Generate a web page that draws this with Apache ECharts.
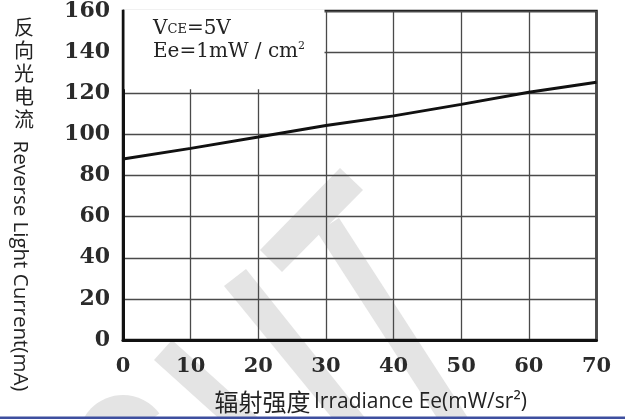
<!DOCTYPE html>
<html>
<head>
<meta charset="utf-8">
<script src="https://cdn.jsdelivr.net/npm/echarts@6/dist/echarts.min.js"></script>
<style>
html,body{margin:0;padding:0;background:#fff;}
#chart{width:625px;height:419px;}
</style>
</head>
<body>
<div id="chart"></div>
<script>
// ---- data ----
var irradiance = [0, 10, 20, 30, 40, 50, 60, 70];
var reverseCurrent = [88, 93.2, 98.7, 104.3, 109, 114.6, 120.5, 125.4];
var xTickLabels = ['0', '10', '20', '30', '40', '50', '60', '70'];
var yTickLabels = ['0', '20', '40', '60', '80', '100', '120', '140', '160'];
var yNameCJK = ['反', '向', '光', '电', '流'];
var yNameLatin = 'Reverse Light Current(mA)';
var xNameCJK = '辐射强度';
var xNameLatin = 'Irradiance Ee(mW/sr²)';

var seriesData = irradiance.map(function (x, i) { return [x, reverseCurrent[i]]; });

var chart = echarts.init(document.getElementById('chart'), null, { renderer: 'canvas' });
var serif = 'DejaVu Serif';
var wm = '#e4e4e4';

var option = {
  backgroundColor: '#ffffff',
  animation: false,
  grid: {
    left: 123, right: 28.5, top: 8, bottom: 75,
    show: true, borderColor: '#1a1a1a', borderWidth: 2.5, backgroundColor: 'transparent'
  },
  xAxis: {
    type: 'value', min: 0, max: 70, interval: 10,
    axisLine: { show: true, onZero: false, lineStyle: { color: '#111', width: 3 } },
    axisTick: { show: false },
    splitLine: { show: true, lineStyle: { color: '#4a4a4a', width: 1.3 } },
    axisLabel: {
      margin: 16, fontFamily: serif, fontWeight: 'bold', fontSize: 21, color: '#2a2a2a',
      formatter: function (v) { return xTickLabels[Math.round(v / 10)]; }
    },
    name: '{c|' + xNameCJK + '} {l|' + xNameLatin + '}',
    nameLocation: 'middle', nameGap: 50,
    nameTextStyle: {
      padding: [0, 0, 0, 22],
      rich: {
        c: { fontFamily: 'Noto Sans CJK SC', fontSize: 24, color: '#222' },
        l: { fontFamily: 'Open Sans', fontSize: 21, color: '#222' }
      }
    }
  },
  yAxis: {
    type: 'value', min: 0, max: 160, interval: 20,
    axisLine: { show: true, onZero: false, lineStyle: { color: '#111', width: 3 } },
    axisTick: { show: false },
    splitLine: { show: true, lineStyle: { color: '#4a4a4a', width: 1.3 } },
    axisLabel: {
      margin: 13, fontFamily: serif, fontWeight: 'bold', fontSize: 22, color: '#2a2a2a',
      formatter: function (v) { return yTickLabels[Math.round(v / 20)]; }
    }
  },
  series: [{
    type: 'line',
    data: seriesData,
    showSymbol: false,
    symbol: 'none',
    lineStyle: { color: '#111', width: 3 },
    z: 3
  }],
  graphic: [
    // faint watermark strokes
    { type: 'polygon', z: -1, silent: true, shape: { points: [[246,269],[370,424],[350,440],[224,286]] }, style: { fill: wm } },
    { type: 'polygon', z: -1, silent: true, shape: { points: [[340,168],[363,190],[282,272],[260,250]] }, style: { fill: wm } },
    { type: 'polygon', z: -1, silent: true, shape: { points: [[339,218],[481,438],[459,452],[317,232]] }, style: { fill: wm } },
    { type: 'polygon', z: -1, silent: true, shape: { points: [[172,340],[262,421],[244,441],[154,360]] }, style: { fill: wm } },
    { type: 'sector', z: -1, silent: true, shape: { cx: 123, cy: 440, r: 45, r0: 0, startAngle: Math.PI, endAngle: Math.PI * 1.8 }, style: { fill: wm } },
    // legend box masking the grid
    { type: 'rect', z: 5, silent: true, shape: { x: 124.5, y: 9.3, width: 200, height: 80 }, style: { fill: '#ffffff' } },
    {
      type: 'text', z: 6, left: 153, top: 19,
      style: {
        text: '{m|V}{s|CE}{m|=5V}\n{m|Ee=1mW / cm}{p|2}',
        fill: '#222',
        rich: {
          m: { fontFamily: serif, fontSize: 20, lineHeight: 23, fill: '#222' },
          s: { fontFamily: serif, fontSize: 13, lineHeight: 13, fill: '#222', verticalAlign: 'bottom', padding: [0, 0, 4, 0] },
          p: { fontFamily: serif, fontSize: 11, lineHeight: 23, fill: '#222', verticalAlign: 'top' }
        }
      }
    },
    // y axis title: upright CJK + rotated Latin
    {
      type: 'text', z: 6, x: 24, y: 16,
      style: {
        text: yNameCJK.join('\n'), fontFamily: 'Noto Sans CJK SC', fontSize: 20, lineHeight: 23,
        fill: '#222', align: 'center', verticalAlign: 'top'
      }
    },
    {
      type: 'text', z: 6, x: 20, y: 266, rotation: -Math.PI / 2,
      style: {
        text: yNameLatin, fontFamily: 'Open Sans', fontSize: 20.5,
        fill: '#222', align: 'center', verticalAlign: 'middle'
      }
    },
    // blue rule at bottom
    { type: 'rect', z: 6, silent: true, shape: { x: 0, y: 416.5, width: 625, height: 2.5 }, style: { fill: '#3e4f9f' } }
  ]
};
chart.setOption(option);
</script>
</body>
</html>
